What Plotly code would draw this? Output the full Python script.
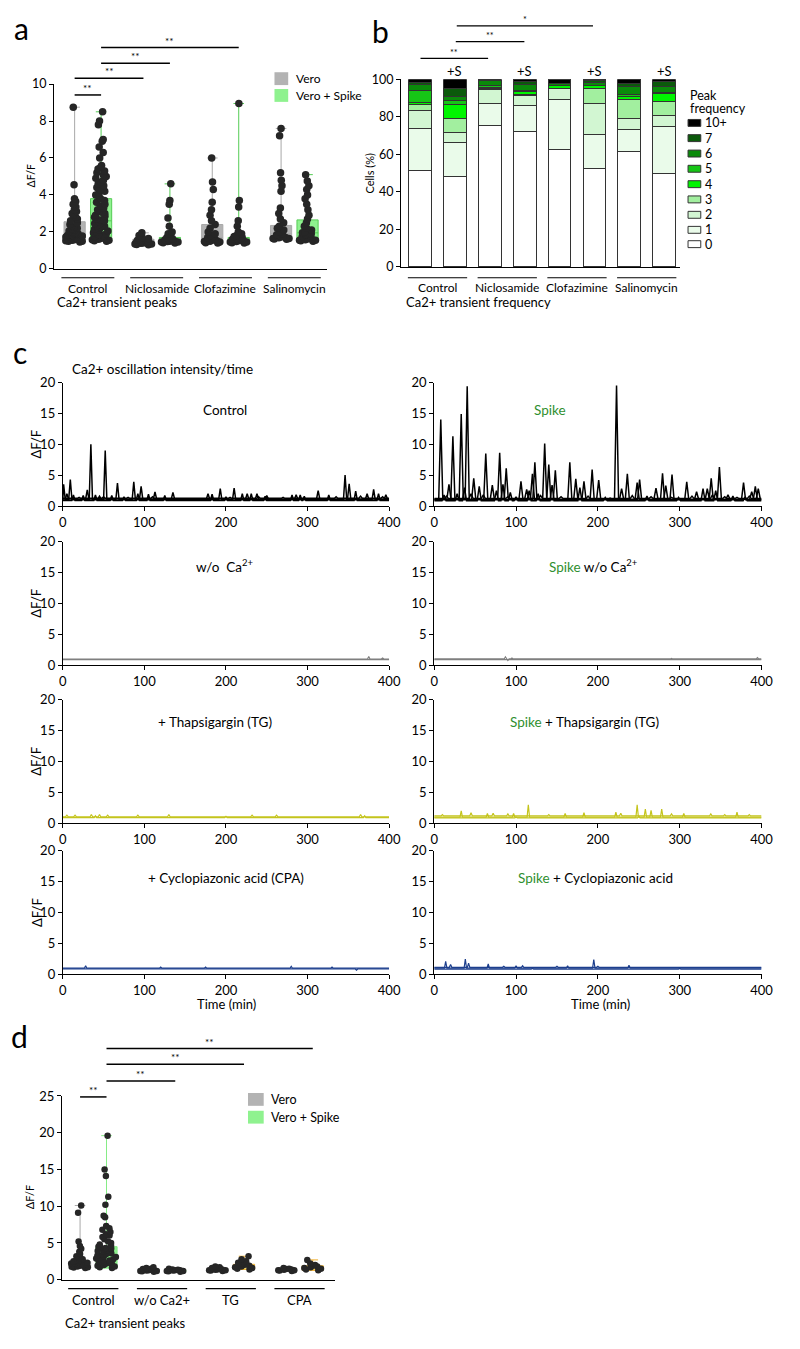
import plotly.graph_objects as go

W, H = 800, 1349
FONT = "Lato"

# ---------------- Panel a data ----------------
a_groups = ["Control", "Niclosamide", "Clofazimine", "Salinomycin"]
a_pos = [0.0, 1.0, 2.6, 3.6, 5.2, 6.2, 7.8, 8.8]
a_is_spike = [False, True, False, True, False, True, False, True]
a_ctrl_vero = [1.45, 1.5, 1.5, 1.52, 1.55, 1.55, 1.58, 1.6, 1.6, 1.62, 1.65, 1.68, 1.7, 1.72, 1.75, 1.78, 1.8, 1.82,
               1.85, 1.9, 1.92, 1.95, 2.0, 2.05, 2.1, 2.15, 2.2, 2.25, 2.3, 2.4, 2.5, 2.6, 2.7, 2.8, 2.9, 3.0, 3.1,
               3.2, 3.35, 3.5, 3.65, 3.8, 4.55, 8.75]
a_ctrl_spike = [1.5, 1.52, 1.55, 1.58, 1.6, 1.62, 1.65, 1.7, 1.72, 1.75, 1.8, 1.85, 1.9, 1.95, 2.0, 2.05, 2.1, 2.15,
                2.2, 2.25, 2.3, 2.35, 2.4, 2.45, 2.5, 2.55, 2.6, 2.65, 2.7, 2.8, 2.85, 2.9, 3.0, 3.05, 3.1, 3.2, 3.3,
                3.4, 3.5, 3.6, 3.7, 3.8, 3.9, 4.0, 4.1, 4.2, 4.3, 4.4, 4.5, 4.6, 4.7, 4.8, 4.9, 5.0, 5.1, 5.2, 5.3,
                5.4, 5.5, 5.6, 6.0, 6.3, 6.6, 6.9, 7.0, 7.8, 8.0, 8.5]
a_nic_vero = [1.3, 1.32, 1.35, 1.35, 1.38, 1.4, 1.4, 1.42, 1.45, 1.45, 1.48, 1.5, 1.52, 1.55, 1.6, 1.65, 1.7, 1.8, 1.95]
a_nic_spike = [1.4, 1.42, 1.45, 1.45, 1.48, 1.5, 1.5, 1.52, 1.55, 1.58, 1.6, 1.62, 1.65, 1.7, 1.9, 2.0, 2.3, 2.75,
               3.5, 3.7, 4.6]
a_clof_vero = [1.4, 1.42, 1.45, 1.48, 1.5, 1.52, 1.55, 1.6, 1.65, 1.7, 1.75, 1.8, 1.9, 2.0, 2.2, 2.4, 2.6, 2.9, 3.2,
               3.6, 4.3, 4.7, 6.0]
a_clof_spike = [1.4, 1.42, 1.45, 1.45, 1.48, 1.5, 1.52, 1.55, 1.58, 1.6, 1.62, 1.65, 1.7, 1.75, 1.8, 1.9, 2.0, 2.3,
                2.6, 3.35, 3.7, 8.95]
a_sal_vero = [1.6, 1.62, 1.65, 1.65, 1.68, 1.7, 1.72, 1.75, 1.8, 1.85, 1.9, 2.0, 2.1, 2.2, 2.3, 2.5, 2.7, 3.0, 3.3,
              4.2, 4.5, 4.8, 5.2, 7.2, 7.6]
a_sal_spike = [1.5, 1.52, 1.55, 1.55, 1.58, 1.6, 1.62, 1.65, 1.7, 1.75, 1.8, 1.85, 1.9, 1.95, 2.0, 2.1, 2.2, 2.3,
               2.5, 2.7, 2.9, 3.2, 3.5, 3.8, 4.0, 4.3, 4.5, 4.75, 5.1]
a_values = [a_ctrl_vero, a_ctrl_spike, a_nic_vero, a_nic_spike, a_clof_vero, a_clof_spike, a_sal_vero, a_sal_spike]
a_box_low = [1.45, 1.6, 1.3, 1.4, 1.4, 1.4, 1.6, 1.5]
a_box_med = [1.8, 2.6, 1.45, 1.55, 1.7, 1.55, 1.9, 1.95]
a_box_high = [2.55, 3.8, 1.6, 1.7, 2.4, 1.7, 2.35, 2.65]
a_max = [8.75, 8.5, 1.95, 4.6, 6.0, 8.95, 7.6, 5.1]

# ---------------- Panel b data ----------------
b_groups = ["Control", "Niclosamide", "Clofazimine", "Salinomycin"]
b_bars = [0, 1, 2, 3, 4, 5, 6, 7]
b_cats = ["0", "1", "2", "3", "4", "5", "6", "7", "10+"]
b_pct = {
    "0":   [51.6, 48.1, 75.4, 72.2, 62.5, 52.5, 61.6, 49.8],
    "1":   [22.0, 17.9, 11.4, 13.7, 26.8, 17.9, 11.5, 25.0],
    "2":   [9.5, 5.7, 7.9, 5.6, 5.8, 16.7, 6.1, 6.0],
    "3":   [3.5, 7.5, 0.3, 0.5, 0.1, 8.0, 9.7, 7.2],
    "4":   [1.1, 7.4, 0.5, 1.5, 1.3, 1.4, 2.1, 4.1],
    "5":   [6.5, 1.8, 1.2, 0.7, 0.3, 0.3, 1.0, 0.7],
    "6":   [3.0, 2.6, 2.4, 3.2, 0.7, 1.3, 3.9, 3.1],
    "7":   [1.0, 4.1, 0.4, 1.6, 0.0, 1.2, 1.8, 3.1],
    "10+": [1.8, 4.9, 0.5, 1.0, 2.6, 0.7, 2.3, 1.0],
}
b_colors = {"0": "#ffffff", "1": "#eafbea", "2": "#d2f6d2", "3": "#a2ef9f", "4": "#00f500",
            "5": "#16c516", "6": "#0a8a0a", "7": "#0b5a0b", "10+": "#000000"}

# ---------------- Panel c data (peak times / heights) ----------------
c_ctrl = [
    ([1, 9.2, 34.4, 52, 67, 87, 193, 210, 346, 381], [3.5, 4.3, 10.0, 9.0, 3.7, 3.9, 2.8, 2.9, 5.0, 2.7], 1.0),
    ([5, 30, 45, 96, 113, 135, 178, 226, 238, 250, 286, 313, 351, 373, 396],
     [2.0, 2.6, 1.6, 3.2, 2.3, 2.2, 2.0, 2.0, 2.0, 1.7, 1.8, 2.5, 3.6, 2.0, 1.8], 1.15),
    ([13, 25, 40, 60, 75, 92, 105, 125, 183, 200, 220, 231, 248, 281, 291, 296, 326, 359, 387],
     [1.8, 1.7, 1.8, 1.7, 1.5, 2.0, 1.9, 1.7, 1.9, 1.5, 2.0, 2.0, 1.6, 1.8, 1.8, 1.6, 1.8, 2.4, 2.0], 0.9),
    ([20, 50, 80, 110, 150, 170, 205, 240, 270, 300, 335, 365, 392],
     [1.4, 1.5, 1.4, 1.5, 1.2, 1.3, 1.4, 1.5, 1.4, 1.3, 1.5, 1.6, 1.5], 1.25),
]
c_spike = [
    ([8, 22.8, 40.3, 63, 80, 106, 123, 135, 148, 165.7, 193, 222.8, 236, 251, 279, 290.6, 308.6, 338.5, 348.5, 378, 392.4],
     [14.0, 11.3, 19.4, 8.5, 8.6, 4.0, 7.1, 10.1, 5.8, 7.1, 5.9, 19.5, 5.2, 4.3, 5.3, 5.1, 3.9, 4.5, 6.3, 3.8, 3.2], 1.0),
    ([18, 33, 48.3, 71, 88, 113, 120, 140, 173, 183, 201, 229, 248, 271, 283, 320.6, 333.7, 359, 388, 396],
     [3.5, 14.9, 4.5, 3.4, 6.1, 2.7, 5.2, 6.7, 4.4, 4.0, 4.2, 2.8, 3.8, 2.9, 3.3, 2.3, 2.8, 1.8, 2.3, 2.8], 1.1),
    ([12, 28, 37, 55, 76, 84, 93, 100, 116, 127, 144, 178, 209, 260, 298.6, 328.5, 344, 365, 380],
     [1.8, 2.0, 3.0, 3.2, 2.5, 3.5, 2.2, 1.5, 2.5, 2.0, 3.4, 3.0, 1.4, 1.6, 1.4, 2.8, 2.5, 1.6, 1.5], 0.85),
    ([15, 45, 60, 90, 130, 155, 188, 215, 242, 265, 290, 315, 340, 355, 370, 385],
     [1.6, 2.0, 1.8, 1.5, 1.7, 1.5, 1.6, 1.3, 1.7, 1.5, 1.4, 1.6, 1.8, 1.5, 1.4, 1.6], 1.2),
]
c_woca_l = [([50, 250, 375, 392], [1.1, 1.1, 1.4, 1.15], 0.98), ([100, 300], [0.95, 0.95], 0.9)]
c_woca_r = [([87, 90, 95, 290, 395], [1.35, 0.75, 1.15, 1.1, 1.2], 1.0), ([200], [0.95], 0.9)]
c_tg_l = [([5, 15, 35, 45, 55, 92, 130, 232, 262, 365], [1.3, 1.3, 1.4, 1.4, 1.3, 1.3, 1.4, 1.3, 1.3, 1.4], 1.05),
          ([40, 200, 370], [1.2, 1.1, 1.2], 0.9)]
c_tg_r = [([33, 65, 97, 115, 160, 183, 222, 248, 258, 265, 278, 305, 370],
           [2.0, 1.6, 1.6, 3.0, 1.6, 1.7, 1.8, 3.0, 2.3, 2.1, 2.3, 1.6, 1.8], 1.0),
          ([10, 45, 72, 90, 140, 228, 290, 338, 355, 385], [1.4, 1.7, 1.6, 1.5, 1.4, 1.6, 1.5, 1.5, 1.4, 1.4], 1.2),
          ([100, 250], [1.0, 1.2], 0.85)]
c_cpa_l = [([28, 120, 175, 280, 330], [1.4, 1.2, 1.2, 1.3, 1.2], 1.0), ([60, 200, 360], [1.0, 1.0, 0.7], 0.88)]
c_cpa_r = [([14, 38, 66, 100, 163, 195, 238], [2.1, 2.5, 1.7, 1.4, 1.4, 2.4, 1.5], 1.0),
           ([20, 42, 85, 108, 150, 200, 290, 350], [1.6, 1.8, 1.3, 1.4, 1.3, 1.3, 1.2, 1.2], 1.15),
           ([120, 300], [1.0, 0.95], 0.85)]

# ---------------- Panel d data ----------------
d_groups = ["Control", "w/o Ca2+", "TG", "CPA"]
d_pos = [0.0, 1.0, 2.6, 3.6, 5.2, 6.2, 7.8, 8.8]
d_ctrl_vero = [1.6, 1.65, 1.7, 1.75, 1.8, 1.85, 1.9, 1.95, 2.0, 2.0, 2.05, 2.1, 2.15, 2.2, 2.25, 2.3, 2.4, 2.5, 2.6,
               2.7, 2.8, 2.9, 3.0, 3.2, 3.5, 3.8, 4.2, 4.6, 5.2, 9.1, 10.1]
d_ctrl_spike = [1.6, 1.7, 1.8, 1.9, 2.0, 2.1, 2.2, 2.3, 2.4, 2.5, 2.6, 2.7, 2.8, 2.9, 3.0, 3.1, 3.2, 3.3, 3.4, 3.5,
                3.6, 3.7, 3.8, 3.9, 4.0, 4.1, 4.2, 4.3, 4.4, 4.5, 4.6, 4.8, 5.0, 5.2, 5.5, 5.8, 6.0, 6.2, 6.5, 6.8,
                7.0, 7.3, 8.5, 8.7, 10.2, 11.3, 14.1, 15.0, 19.6]
d_woca_vero = [1.1, 1.15, 1.2, 1.2, 1.25, 1.3, 1.3, 1.35, 1.4, 1.45, 1.5, 1.6, 1.7]
d_woca_spike = [1.1, 1.15, 1.2, 1.2, 1.25, 1.3, 1.3, 1.35, 1.4, 1.5]
d_tg_vero = [1.2, 1.25, 1.3, 1.3, 1.35, 1.4, 1.4, 1.45, 1.5, 1.6, 1.7, 1.8]
d_tg_spike = [1.4, 1.5, 1.6, 1.7, 1.8, 1.9, 2.0, 2.1, 2.2, 2.3, 2.5, 2.8, 3.2]
d_cpa_vero = [1.2, 1.25, 1.3, 1.3, 1.35, 1.4, 1.45, 1.5, 1.6]
d_cpa_spike = [1.3, 1.4, 1.5, 1.6, 1.7, 1.8, 1.9, 2.0, 2.2, 2.7]
d_values = [d_ctrl_vero, d_ctrl_spike, d_woca_vero, d_woca_spike, d_tg_vero, d_tg_spike, d_cpa_vero, d_cpa_spike]
d_box_low = [1.6, 1.6, 1.1, 1.1, 1.2, 1.4, 1.2, 1.3]
d_box_med = [2.0, 2.8, 1.25, 1.25, 1.35, 1.8, 1.3, 1.6]
d_box_high = [2.5, 4.5, 1.4, 1.35, 1.5, 2.1, 1.45, 1.9]
d_max = [10.1, 19.6, 1.7, 1.5, 1.8, 3.2, 1.6, 2.7]
d_fill = ["#b3b3b3", "#8ff28f", "#b3b3b3", "#8ff28f", "#b3b3b3", "#f3e27a", "#b3b3b3", "#f3e27a"]
d_line = ["#a8a8a8", "#86ec86", "#a8a8a8", "#86ec86", "#a8a8a8", "#f0b030", "#a8a8a8", "#f0b030"]

VERO_FILL, VERO_LINE = "#b3b3b3", "#a8a8a8"
SPIKE_FILL, SPIKE_LINE = "#8ff28f", "#55cc55"
GREEN_TXT = "#2f8f2f"

# ---------------- helpers ----------------
def dxp(p0, p1):
    return [p0 / W, p1 / W]


def dyp(top, bottom):
    return [1 - bottom / H, 1 - top / H]


def data_px(v, rng, dom):
    return dom[0] + (v - rng[0]) / (rng[1] - rng[0]) * (dom[1] - dom[0])


anns, shapes = [], []


def T(x, y, text, size=12, color="black", xa="center", ya="middle", angle=0):
    anns.append(dict(x=x / W, y=1 - y / H, xref="paper", yref="paper", text=text, showarrow=False,
                     font=dict(size=size, color=color, family=FONT), xanchor=xa, yanchor=ya, textangle=angle))


def L(x0, y0, x1, y1, w=1.5, color="black"):
    shapes.append(dict(type="line", xref="paper", yref="paper", x0=x0 / W, x1=x1 / W,
                       y0=1 - y0 / H, y1=1 - y1 / H, line=dict(color=color, width=w)))


def R(x0, y0, x1, y1, fill, line="rgba(0,0,0,0)", w=0):
    shapes.append(dict(type="rect", xref="paper", yref="paper", x0=x0 / W, x1=x1 / W,
                       y0=1 - y1 / H, y1=1 - y0 / H, fillcolor=fill, line=dict(color=line, width=w)))


def spikes(pt, pv, base, hw):
    t, v = [0.0], [base]
    for a, b in zip(pt, pv):
        t += [max(0.0, a - hw), a, min(400.0, a + hw)]
        v += [base, b, base]
    t.append(400.0)
    v.append(base)
    return t, v


fig = go.Figure()
layout = dict(width=W, height=H, margin=dict(l=0, r=0, t=0, b=0), paper_bgcolor="white",
              plot_bgcolor="white", showlegend=False, barmode="stack", boxmode="overlay",
              font=dict(family=FONT, color="black"))


def axis_style(**kw):
    d = dict(showline=True, linecolor="black", linewidth=1, showgrid=False, zeroline=False,
             ticks="outside", ticklen=4, tickwidth=1, tickcolor="black")
    d.update(kw)
    return d


def add_swarm(xref, yref, pos, vals, lo, med, hi, mx, fill, line, msize):
    for i in range(len(pos)):
        fig.add_trace(go.Box(x=[pos[i]], q1=[lo[i]], median=[med[i]], q3=[hi[i]],
                             lowerfence=[lo[i]], upperfence=[mx[i]], width=0.8, whiskerwidth=0.5,
                             fillcolor=fill[i], line=dict(color=line[i], width=1),
                             boxpoints=False, xaxis=xref, yaxis=yref, hoverinfo="skip"))
        fig.add_trace(go.Box(x=[pos[i]] * len(vals[i]), y=vals[i], boxpoints="all", jitter=1.0, pointpos=0,
                             width=0.8, fillcolor="rgba(0,0,0,0)", line=dict(color="rgba(0,0,0,0)", width=0),
                             marker=dict(color="#262626", size=msize, line=dict(width=0)),
                             xaxis=xref, yaxis=yref, hoverinfo="skip"))


# ================= Panel a =================
A_XR, A_XD = [-0.78, 9.55], [51, 330]
A_YR, A_YD = [0, 10], [77, 264]
layout["xaxis"] = axis_style(domain=dxp(*A_XD), range=A_XR, showticklabels=False, ticks="", anchor="y")
layout["yaxis"] = axis_style(domain=dyp(*A_YD), range=A_YR, dtick=2, tickfont=dict(size=12.5), anchor="x")
a_fill = [SPIKE_FILL if s else VERO_FILL for s in a_is_spike]
a_line = [SPIKE_LINE if s else VERO_LINE for s in a_is_spike]
add_swarm("x", "y", a_pos, a_values, a_box_low, a_box_med, a_box_high, a_max, a_fill, a_line, 7.5)

ax = lambda v: data_px(v, A_XR, A_XD)
for g in range(4):
    c = (a_pos[2 * g] + a_pos[2 * g + 1]) / 2
    L(ax(a_pos[2 * g] - 0.5), 273, ax(a_pos[2 * g + 1] + 0.5), 273, w=1.2)
    T(ax(c), 284, a_groups[g], size=12)
T(52, 298, "Ca2+ transient peaks", size=13, xa="left")
T(28, 170, "ΔF/F", size=10.5, angle=-90)
for (p0, p1, yy) in [(0, 1, 88), (0, 2, 71), (1, 3, 56), (1, 5, 40)]:
    x0, x1 = ax(a_pos[p0]), ax(a_pos[p1])
    L(x0, yy, x1, yy, w=1.5)
    T((x0 + x1) / 2, yy - 7, "**", size=10)
R(276, 65, 290, 78, VERO_FILL)
R(276, 82, 290, 95, SPIKE_FILL)
T(296, 71, "Vero", size=12, xa="left")
T(296, 88.5, "Vero + Spike", size=12, xa="left")
T(18, 0, "a", size=30, ya="top")

# ================= Panel b =================
B_XR, B_XD = [-0.55, 7.46], [405, 690]
B_YR, B_YD = [0, 100], [72, 262]
layout["xaxis2"] = axis_style(domain=dxp(*B_XD), range=B_XR, showticklabels=False, ticks="", anchor="y2")
layout["yaxis2"] = axis_style(domain=dyp(*B_YD), range=B_YR, dtick=20, tickfont=dict(size=12.5), anchor="x2")
for cat in b_cats:
    fig.add_trace(go.Bar(x=b_bars, y=b_pct[cat], width=0.65, marker=dict(color=b_colors[cat],
                         line=dict(color="#333333", width=1)), xaxis="x2", yaxis="y2", name=cat, hoverinfo="skip"))
bx = lambda v: data_px(v, B_XR, B_XD)
for g in range(4):
    L(bx(b_bars[2 * g] - 0.35), 273, bx(b_bars[2 * g + 1] + 0.35), 273, w=1.2)
    T(bx((b_bars[2 * g] + b_bars[2 * g + 1]) / 2), 283, b_groups[g], size=12)
    T(bx(b_bars[2 * g + 1]), 64, "+S", size=13)
T(408, 298, "Ca2+ transient frequency", size=13, xa="left")
T(372, 167, "Cells (%)", size=11, angle=-90)
for (x0, x1, yy, s) in [(425, 494, 51, "**"), (461, 531, 34, "**"), (462, 601, 18, "*")]:
    L(x0, yy, x1, yy, w=1.2)
    T((x0 + x1) / 2, yy - 6, s, size=9)
T(698, 89, "Peak", size=12.5, xa="left")
T(698, 101.5, "frequency", size=12.5, xa="left")
leg_y = {"10+": 116.3, "7": 131.7, "6": 147.3, "5": 162.7, "4": 178.3, "3": 193.7, "2": 209.3, "1": 224.5, "0": 239}
for cat in b_cats:
    yy = leg_y[cat]
    R(698, yy - 3.5, 711, yy + 3.5, b_colors[cat], line="#333333", w=1)
    T(713, yy, cat, size=12.5, xa="left")
T(384, 3, "b", size=30, ya="top")

# ================= Panel c =================
C_XR, C_YR = [0, 400], [0, 20]
col_dom = [[60, 393], [439, 773]]
row_dom = [[379, 504], [540, 665], [700, 825], [853, 978]]
panels = [
    (c_ctrl, "#000000", 1.5, 2.0), (c_spike, "#000000", 1.5, 2.5),
    (c_woca_l, "#7f7f7f", 1.2, 1.5), (c_woca_r, "#7f7f7f", 1.2, 1.5),
    (c_tg_l, "#c4c41c", 1.2, 1.5), (c_tg_r, "#c4c41c", 1.2, 1.5),
    (c_cpa_l, "#1d3f8d", 1.2, 1.5), (c_cpa_r, "#1d3f8d", 1.2, 1.5),
]
for k, (traces, col, lw, hw) in enumerate(panels):
    r, cc = k // 2, k % 2
    n = k + 3
    xa, ya = f"x{n}", f"y{n}"
    layout[f"xaxis{n}"] = axis_style(domain=dxp(*col_dom[cc]), range=C_XR, dtick=100,
                                     tickfont=dict(size=13), anchor=ya)
    layout[f"yaxis{n}"] = axis_style(domain=dyp(*row_dom[r]), range=C_YR, dtick=5,
                                     tickfont=dict(size=13), anchor=xa)
    for (pt, pv, base) in traces:
        t, v = spikes(pt, pv, base, hw)
        fig.add_trace(go.Scatter(x=t, y=v, mode="lines", line=dict(color=col, width=lw),
                                 xaxis=xa, yaxis=ya, hoverinfo="skip"))
    if cc == 0:
        T(33, (row_dom[r][0] + row_dom[r][1]) / 2, "ΔF/F", size=13, angle=-90)

G = f"<span style='color:{GREEN_TXT}'>Spike</span>"
T(226, 407, "Control", size=13.5)
T(557, 407, G, size=13.5)
T(225, 565, "w/o  Ca<sup>2+</sup>", size=13.5)
T(601, 565, G + " w/o Ca<sup>2+</sup>", size=13.5)
T(215, 723, "+ Thapsigargin (TG)", size=13.5)
T(592, 723, G + " + Thapsigargin (TG)", size=13.5)
T(227, 880, "+ Cyclopiazonic acid (CPA)", size=13.5)
T(604, 880, G + " + Cyclopiazonic acid", size=13.5)
T(227, 1008, "Time (min)", size=13)
T(609, 1008, "Time (min)", size=13)
T(67, 365, "Ca2+ oscillation intensity/time", size=13.5, xa="left")
T(16, 348, "c", size=30)

# ================= Panel d =================
D_XR, D_XD = [-0.69, 9.65], [59, 338]
D_YR, D_YD = [0, 25], [1101, 1287]
layout["xaxis11"] = axis_style(domain=dxp(*D_XD), range=D_XR, showticklabels=False, ticks="", anchor="y11")
layout["yaxis11"] = axis_style(domain=dyp(*D_YD), range=D_YR, dtick=5, tickfont=dict(size=13), anchor="x11")
add_swarm("x11", "y11", d_pos, d_values, d_box_low, d_box_med, d_box_high, d_max, d_fill, d_line, 6.5)
dx = lambda v: data_px(v, D_XR, D_XD)
for g in range(4):
    L(dx(d_pos[2 * g] - 0.45), 1296, dx(d_pos[2 * g + 1] + 0.45), 1296, w=1.2)
    T(dx((d_pos[2 * g] + d_pos[2 * g + 1]) / 2), 1308, d_groups[g], size=13)
T(60, 1331, "Ca2+ transient peaks", size=13, xa="left")
T(26, 1203, "ΔF/F", size=11, angle=-90)
for (p0, p1, yy) in [(0, 1, 1102), (1, 3, 1086), (1, 5, 1069), (1, 7, 1053)]:
    x0, x1 = dx(d_pos[p0]), dx(d_pos[p1])
    L(x0, yy, x1, yy, w=1.5)
    T((x0 + x1) / 2, yy - 7, "**", size=10)
R(249, 1098, 265, 1111, VERO_FILL)
R(249, 1116, 265, 1129, SPIKE_FILL)
T(270, 1105, "Vero", size=12.5, xa="left")
T(270, 1123, "Vero + Spike", size=12.5, xa="left")
T(16, 1040, "d", size=30)

layout["annotations"] = anns
layout["shapes"] = shapes
fig.update_layout(**layout)
fig.write_html("out.html", config={"displayModeBar": False},
               post_script="document.body.style.margin='0px';document.body.style.padding='0px';")
